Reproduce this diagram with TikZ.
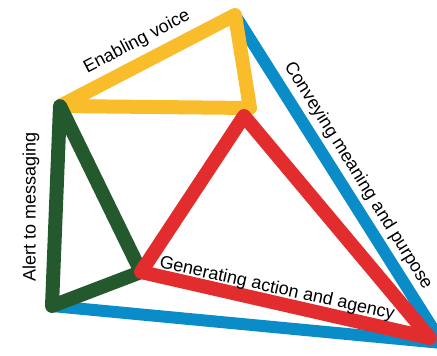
\documentclass[tikz,border=0pt]{standalone}
\usepackage{fontspec}
\setmainfont{Liberation Sans}
\definecolor{voiceyellow}{RGB}{249,188,42}
\definecolor{meaningblue}{RGB}{10,140,200}
\definecolor{alertgreen}{RGB}{36,89,46}
\definecolor{actionred}{RGB}{226,44,46}
\usetikzlibrary{positioning}

\begin{document}
\begin{tikzpicture}[
  x=0.75pt, y=-0.75pt,
  band/.style={line width=10.5pt, line join=round, line cap=round},
  label/.style={font=\fontsize{13.5}{16}\selectfont, inner sep=0pt}
]
  \useasboundingbox (0,0) rectangle (437,355);

  % corners
  \coordinate (T) at (235,15);
  \coordinate (L) at (60,106);
  \coordinate (Y) at (250,108);
  \coordinate (GB) at (52,306);
  \coordinate (RA) at (244,116);
  \coordinate (RB) at (141,272);
  \coordinate (RC) at (430,338);
  \coordinate (BC) at (442,343);

  \draw[band, draw=meaningblue, line width=9pt] (T) -- (BC) -- (GB);
  \draw[band, draw=voiceyellow] (T) -- (L) -- (Y) -- cycle;
  \draw[band, draw=alertgreen] (L) -- (GB) -- (RB) -- cycle;
  \draw[band, draw=actionred] (RA) -- (RB) -- (RC) -- cycle;

  \node[label, rotate=27.6] (voice) at (137,42) {Enabling voice};
  \node[label, rotate=-58] (meaning) at (358,176) {Conveying meaning and purpose};
  \node[label, rotate=90] (alert) at (31,207) {Alert to messaging};
  \node[label, rotate=-12.5] (action) at (277,289) {Generating action and agency};
\end{tikzpicture}
\end{document}
